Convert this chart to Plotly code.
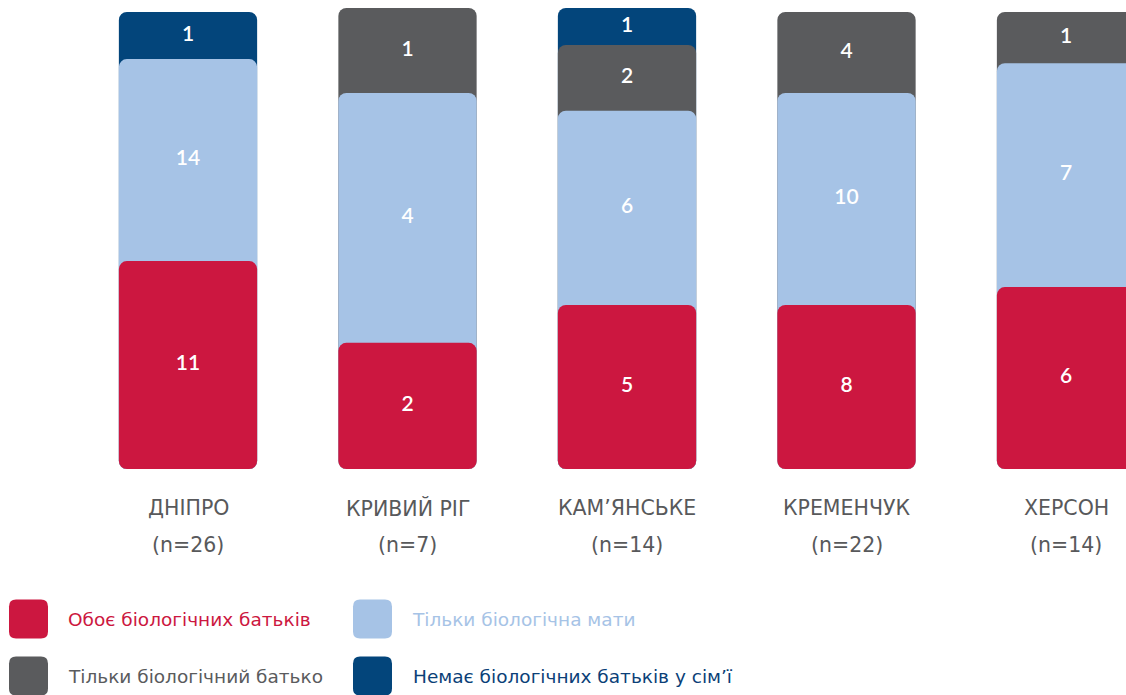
import plotly.graph_objects as go

# ---- data ----
categories = ["ДНІПРО", "КРИВИЙ РІГ", "КАМ’ЯНСЬКЕ", "КРЕМЕНЧУК", "ХЕРСОН"]
sample_sizes = ["(n=26)", "(n=7)", "(n=14)", "(n=22)", "(n=14)"]

series_names = [
    "Обоє біологічних батьків",
    "Тільки біологічна мати",
    "Тільки біологічний батько",
    "Немає біологічних батьків у сім’ї",
]
# counts shown as labels
counts_both = [11, 2, 5, 8, 6]
counts_mother = [14, 4, 6, 10, 7]
counts_father = [None, 1, 2, 4, 1]
counts_none = [1, None, 1, None, None]
# visual shares of each bar (%), as drawn
share_both = [45.5, 27.6, 35.9, 35.9, 39.8]
share_mother = [44.2, 54.7, 42.5, 46.4, 49.0]
share_father = [0, 18.6, 14.4, 17.7, 11.2]
share_none = [10.3, 0, 8.1, 0, 0]

colors = ["#cc1740", "#a6c3e6", "#5a5b5d", "#03457b"]
legend_text_colors = ["#cc1740", "#a6c3e6", "#5a5b5d", "#0b3f78"]

FONT = "'DejaVu Sans', sans-serif"
NUM_FONT = "Lato, 'DejaVu Sans', sans-serif"
W, H = 1126, 695

shares = [share_both, share_mother, share_father, share_none]
counts = [counts_both, counts_mother, counts_father, counts_none]

# cumulative tops for the overlapping rounded segments
cum = []
running = [0.0] * len(categories)
for s in shares:
    running = [r + v for r, v in zip(running, s)]
    cum.append(list(running))

fig = go.Figure()
# draw from the top segment down so lower segments sit on top
for k in reversed(range(4)):
    y = [c if shares[k][i] > 0 else None for i, c in enumerate(cum[k])]
    fig.add_trace(go.Bar(
        x=categories, y=y, base=0, width=0.63,
        marker=dict(color=colors[k], line=dict(width=0)),
        name=series_names[k], showlegend=False, hoverinfo="skip",
    ))

# value labels at segment midpoints
lx, ly, lt = [], [], []
for k in range(4):
    for i, cat in enumerate(categories):
        if counts[k][i] is not None and shares[k][i] > 0:
            lx.append(cat)
            ly.append(cum[k][i] - shares[k][i] / 2)
            lt.append(str(counts[k][i]))
fig.add_trace(go.Scatter(
    x=lx, y=ly, text=lt, mode="text",
    textfont=dict(family=NUM_FONT, size=21, color="white", weight=600),
    showlegend=False, hoverinfo="skip",
))

annotations = []
for cat, n in zip(categories, sample_sizes):
    annotations.append(dict(x=cat, xref="x", y=1 - 508 / H, yref="paper", text=cat,
                            showarrow=False, yanchor="middle",
                            font=dict(family=FONT, size=20.5, color="#58595b")))
    annotations.append(dict(x=cat, xref="x", y=1 - 545 / H, yref="paper", text=n,
                            showarrow=False, yanchor="middle",
                            font=dict(family=FONT, size=20.5, color="#58595b")))

# hand-built legend (2 x 2)
def rounded_path(w, h, r):
    x0, x1, y0, y1 = -w / 2, w / 2, -h / 2, h / 2
    return (f"M {x0+r},{y0} L {x1-r},{y0} Q {x1},{y0} {x1},{y0+r} "
            f"L {x1},{y1-r} Q {x1},{y1} {x1-r},{y1} L {x0+r},{y1} "
            f"Q {x0},{y1} {x0},{y1-r} L {x0},{y0+r} Q {x0},{y0} {x0+r},{y0} Z")

legend_pos = [(28.5, 619, 66), (372.5, 619, 410), (28.5, 676, 66), (372.5, 676, 411)]
shapes = []
for k, (sx, sy, tx) in enumerate(legend_pos):
    shapes.append(dict(type="path", xref="paper", yref="paper",
                       xsizemode="pixel", ysizemode="pixel",
                       xanchor=sx / W, yanchor=1 - sy / H,
                       path=rounded_path(39, 39, 7),
                       fillcolor=colors[k], line=dict(width=0)))
    annotations.append(dict(x=tx / W, y=1 - sy / H, xref="paper", yref="paper",
                            xanchor="left", yanchor="middle", showarrow=False,
                            text=series_names[k],
                            font=dict(family=FONT, size=18.5, color=legend_text_colors[k])))

fig.update_layout(
    width=W, height=H,
    margin=dict(l=0, r=0, t=0, b=0),
    paper_bgcolor="white", plot_bgcolor="white",
    barmode="overlay", barcornerradius=8,
    xaxis=dict(range=[-188 / 219.5, (W - 188) / 219.5], showticklabels=False,
               showgrid=False, zeroline=False, showline=False, fixedrange=True),
    yaxis=dict(range=[0, 101], domain=[1 - 469 / H, 1 - (469 - 101 * 4.57) / H],
               showticklabels=False, showgrid=False, zeroline=False,
               showline=False, fixedrange=True),
    annotations=annotations, shapes=shapes,
    font=dict(family=FONT),
)

fig.write_html(
    "out.html",
    config={"displayModeBar": False},
    post_script="document.body.style.margin='0';document.body.style.overflow='hidden';",
)
